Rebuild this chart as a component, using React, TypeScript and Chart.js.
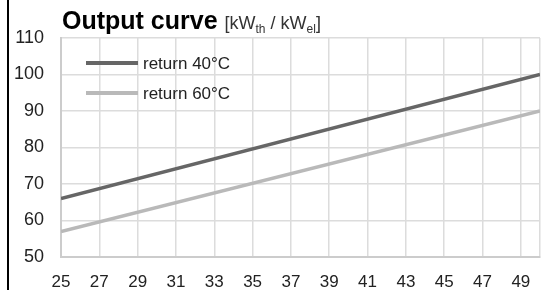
import React, { useEffect, useRef } from 'react';
import { Chart, registerables } from 'chart.js';

Chart.register(...registerables);

const xValues = [25, 50];
const return40 = [66, 100];
const return60 = [57, 90];
const seriesLabels = ['return 40°C', 'return 60°C'];
const seriesColors = ['#666666', '#b9b9b9'];
const xTickLabels = [25, 27, 29, 31, 33, 35, 37, 39, 41, 43, 45, 47, 49];
const xMax = 50;
const yTickLabels = [50, 60, 70, 80, 90, 100, 110];

const FONT = '"Liberation Sans", Arial, Helvetica, sans-serif';

const insideLegend = {
  id: 'insideLegend',
  afterDatasetsDraw(chart: any) {
    const { ctx, chartArea } = chart;
    chart.data.datasets.forEach((ds: any, i: number) => {
      const y = chartArea.top + 25 + i * 30;
      const x0 = chartArea.left + 25;
      ctx.save();
      ctx.strokeStyle = ds.borderColor;
      ctx.lineWidth = 4;
      ctx.beginPath();
      ctx.moveTo(x0, y);
      ctx.lineTo(x0 + 52, y);
      ctx.stroke();
      ctx.fillStyle = '#222222';
      ctx.font = `17px ${FONT}`;
      ctx.textBaseline = 'middle';
      ctx.textAlign = 'left';
      ctx.fillText(ds.label, x0 + 57, y + 1);
      ctx.restore();
    });
  },
};

export default function App() {
  const ref = useRef<HTMLCanvasElement | null>(null);

  useEffect(() => {
    if (!ref.current) return;
    const mk = (vals: number[]) => xValues.map((x, i) => ({ x, y: vals[i] }));
    const chart = new Chart(ref.current, {
      type: 'line',
      data: {
        datasets: [
          { label: seriesLabels[0], data: mk(return40), borderColor: seriesColors[0], borderWidth: 3.5, pointRadius: 0, tension: 0 },
          { label: seriesLabels[1], data: mk(return60), borderColor: seriesColors[1], borderWidth: 3.5, pointRadius: 0, tension: 0 },
        ],
      },
      options: {
        animation: false,
        responsive: true,
        maintainAspectRatio: false,
        layout: { padding: { left: 0, right: 4, top: 38, bottom: 0 } },
        plugins: { legend: { display: false }, tooltip: { enabled: false }, title: { display: false } },
        scales: {
          x: {
            type: 'linear',
            min: xTickLabels[0],
            max: xMax,
            afterBuildTicks: (s: any) => {
              s.ticks = [...xTickLabels, xMax].map((v) => ({ value: v }));
            },
            afterFit: (s: any) => {
              s.height = 33;
            },
            ticks: {
              autoSkip: false,
              maxRotation: 0,
              padding: 15,
              color: '#222222',
              font: { family: FONT, size: 17 },
              callback: (v: any) => (xTickLabels.includes(Number(v)) ? String(v) : ''),
            },
            grid: { color: '#dcdcdc', lineWidth: 1.5, drawTicks: false },
            border: { color: '#cccccc', width: 2 },
          },
          y: {
            min: yTickLabels[0],
            max: yTickLabels[yTickLabels.length - 1],
            afterBuildTicks: (s: any) => {
              s.ticks = yTickLabels.map((v) => ({ value: v }));
            },
            afterFit: (s: any) => {
              s.width = 61;
            },
            ticks: {
              padding: 17,
              color: '#222222',
              font: { family: FONT, size: 18 },
            },
            grid: { color: '#dcdcdc', lineWidth: 1.5, drawTicks: false },
            border: { color: '#cccccc', width: 2 },
          },
        },
      },
      plugins: [insideLegend],
    } as any);
    return () => chart.destroy();
  }, []);

  return (
    <div style={{ position: 'fixed', left: 0, top: 0, width: 555, height: 290, background: '#fff', fontFamily: FONT }}>
      <canvas ref={ref} style={{ position: 'absolute', left: 0, top: 0 }} />
      <div style={{ position: 'absolute', left: 7, top: 0, width: 2, height: 290, background: '#000' }} />
      <div
        style={{
          position: 'absolute',
          left: 62,
          top: 8,
          whiteSpace: 'nowrap',
          fontSize: 25,
          lineHeight: '25px',
          fontWeight: 'bold',
          color: '#000',
        }}
      >
        Output curve{' '}
        <span style={{ fontSize: 18, fontWeight: 'normal', color: '#333' }}>
          [kW<span style={{ fontSize: 12, position: 'relative', top: 4 }}>th</span> / kW
          <span style={{ fontSize: 12, position: 'relative', top: 4 }}>el</span>]
        </span>
      </div>
    </div>
  );
}
